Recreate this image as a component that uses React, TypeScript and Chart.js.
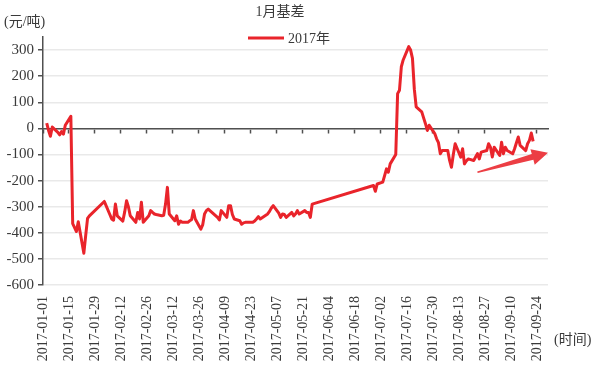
import React, { useEffect, useRef } from 'react';
import { Chart, registerables } from 'chart.js';

Chart.register(...registerables);

// ---------- data ----------
const chartTitle = '1月基差';
const seriesName = '2017年';
const yUnit = '(元/吨)';
const xUnit = '(时间)';

const tradeDates: string[] = [
  '2017-01-03', '2017-01-04', '2017-01-05', '2017-01-06', '2017-01-09', '2017-01-10', '2017-01-11', '2017-01-12', '2017-01-13',
  '2017-01-16', '2017-01-17', '2017-01-18', '2017-01-19', '2017-01-20', '2017-01-23', '2017-01-24', '2017-01-25', '2017-01-26',
  '2017-02-03', '2017-02-06', '2017-02-07', '2017-02-08', '2017-02-09', '2017-02-10', '2017-02-13', '2017-02-14', '2017-02-15',
  '2017-02-16', '2017-02-17', '2017-02-20', '2017-02-21', '2017-02-22', '2017-02-23', '2017-02-24', '2017-02-27', '2017-02-28',
  '2017-03-01', '2017-03-02', '2017-03-03', '2017-03-06', '2017-03-07', '2017-03-08', '2017-03-09', '2017-03-10', '2017-03-13',
  '2017-03-14', '2017-03-15', '2017-03-16', '2017-03-17', '2017-03-20', '2017-03-21', '2017-03-22', '2017-03-23', '2017-03-24',
  '2017-03-27', '2017-03-28', '2017-03-29', '2017-03-30', '2017-03-31',
  '2017-04-05', '2017-04-06', '2017-04-07', '2017-04-10', '2017-04-11', '2017-04-12', '2017-04-13', '2017-04-14', '2017-04-17',
  '2017-04-18', '2017-04-19', '2017-04-20', '2017-04-21', '2017-04-24', '2017-04-25', '2017-04-26', '2017-04-27', '2017-04-28',
  '2017-05-02', '2017-05-03', '2017-05-04', '2017-05-05', '2017-05-08', '2017-05-09', '2017-05-10', '2017-05-11', '2017-05-12',
  '2017-05-15', '2017-05-16', '2017-05-17', '2017-05-18', '2017-05-19', '2017-05-22', '2017-05-23', '2017-05-24', '2017-05-25',
  '2017-05-26',
  '2017-06-28', '2017-06-29', '2017-06-30',
  '2017-07-03', '2017-07-04', '2017-07-05', '2017-07-06', '2017-07-07', '2017-07-10', '2017-07-11', '2017-07-12', '2017-07-13',
  '2017-07-14', '2017-07-17', '2017-07-18', '2017-07-19', '2017-07-20', '2017-07-21', '2017-07-24', '2017-07-25', '2017-07-26',
  '2017-07-27', '2017-07-28', '2017-07-31',
  '2017-08-01', '2017-08-02', '2017-08-03', '2017-08-04', '2017-08-07', '2017-08-08', '2017-08-09', '2017-08-10', '2017-08-11',
  '2017-08-14', '2017-08-15', '2017-08-16', '2017-08-17', '2017-08-18', '2017-08-21', '2017-08-22', '2017-08-23', '2017-08-24',
  '2017-08-25', '2017-08-28', '2017-08-29', '2017-08-30', '2017-08-31',
  '2017-09-01', '2017-09-04', '2017-09-05', '2017-09-06', '2017-09-07', '2017-09-08', '2017-09-11', '2017-09-12', '2017-09-13',
  '2017-09-14', '2017-09-15', '2017-09-18', '2017-09-19', '2017-09-20', '2017-09-21', '2017-09-22',
];

const basis2017: number[] = [
  20, -8, -30, 5, -15, -25, -12, -22, 12,
  46, -365, -380, -395, -358, -478, -410, -345, -335,
  -280, -330, -347, -352, -290, -335, -355, -320, -277,
  -300, -335, -360, -322, -347, -283, -360, -335, -315,
  -322, -328, -330, -335, -333, -290, -226, -328, -354,
  -335, -367, -355, -360, -360, -354, -350, -315, -347,
  -386, -370, -328, -315, -309,
  -341, -351, -315, -341, -296, -296, -330, -347, -354,
  -367, -362, -360, -360, -360, -355, -347, -338, -347,
  -328, -318, -305, -296, -325, -341, -328, -330, -341,
  -322, -335, -328, -315, -328, -315, -322, -322, -341,
  -290,
  -219, -241, -213,
  -206, -181, -155, -168, -136, -100, 133, 146, 236,
  262, 313, 300, 268, 150, 82, 63, 40, 18,
  -8, 12, -20,
  -40, -55, -97, -85, -85, -123, -149, -100, -59,
  -110, -78, -136, -125, -117, -123, -110, -97, -117,
  -91, -85, -59, -72, -110,
  -72, -104, -53, -97, -72, -85, -97, -78, -55,
  -33, -65, -85, -59, -46, -18, -50,
];

const xAxisStart = '2017-01-01';
const xAxisEnd = '2017-09-30';
const xTickStepDays = 14;
const yMin = -600;
const yMax = 350;
const yStep = 100;

// trend arrow annotation: [date, value]
const arrowTail: [string, number] = ['2017-08-23', -168];
const arrowHead: [string, number] = ['2017-09-30', -93];

// ---------- helpers ----------
const DAY = 86400000;
const startMs = Date.parse(xAxisStart + 'T00:00:00Z');
const toDay = (d: string) => Math.round((Date.parse(d + 'T00:00:00Z') - startMs) / DAY);
const fromDay = (n: number) => new Date(startMs + n * DAY).toISOString().slice(0, 10);

const FONT = "'Liberation Serif', 'Times New Roman', 'Noto Sans CJK SC', serif";
const RED = '#e9242b';
const AXIS = '#505050';
const GRID = '#e9e9e9';
const TEXT = '#3a3a3a';

const xMaxDay = toDay(xAxisEnd);

const overlayPlugin = {
  id: 'overlay',
  afterDatasetsDraw(chart: any) {
    const { ctx, scales } = chart;
    const xs = scales.x;
    const ys = scales.y;
    const x1 = xs.getPixelForValue(toDay(arrowTail[0]));
    const y1 = ys.getPixelForValue(arrowTail[1]);
    const x2 = xs.getPixelForValue(toDay(arrowHead[0]));
    const y2 = ys.getPixelForValue(arrowHead[1]);
    const dx = x2 - x1;
    const dy = y2 - y1;
    const len = Math.hypot(dx, dy);
    const ux = dx / len;
    const uy = dy / len;
    const nx = -uy;
    const ny = ux;
    const headLen = 16;
    const headHalf = 8;
    const bx = x2 - ux * headLen;
    const by = y2 - uy * headLen;
    const tailHalf = 0.8;
    const neckHalf = 3;
    ctx.save();
    ctx.fillStyle = '#ec3e44';
    ctx.beginPath();
    ctx.moveTo(x1 + nx * tailHalf, y1 + ny * tailHalf);
    ctx.lineTo(bx + nx * neckHalf, by + ny * neckHalf);
    ctx.lineTo(bx + nx * headHalf, by + ny * headHalf);
    ctx.lineTo(x2, y2);
    ctx.lineTo(bx - nx * headHalf, by - ny * headHalf);
    ctx.lineTo(bx - nx * neckHalf, by - ny * neckHalf);
    ctx.lineTo(x1 - nx * tailHalf, y1 - ny * tailHalf);
    ctx.closePath();
    ctx.fill();
    ctx.restore();
  },
  afterDraw(chart: any) {
    const { ctx, chartArea } = chart;
    ctx.save();
    ctx.font = `14px ${FONT}`;
    ctx.fillStyle = TEXT;
    ctx.textBaseline = 'middle';
    // title
    ctx.textAlign = 'center';
    ctx.fillText(chartTitle, 280, 12);
    // unit labels
    ctx.textAlign = 'left';
    ctx.fillText(yUnit, 4, 22);
    ctx.fillText(xUnit, chartArea.right + 6, 340);
    // legend
    const ly = 38;
    ctx.strokeStyle = RED;
    ctx.lineWidth = 3;
    ctx.beginPath();
    ctx.moveTo(248, ly);
    ctx.lineTo(284, ly);
    ctx.stroke();
    ctx.fillText(seriesName, 288, ly + 1);
    ctx.restore();
  },
};

export default function App() {
  const ref = useRef<HTMLCanvasElement | null>(null);

  useEffect(() => {
    if (!ref.current) return;
    const points = tradeDates.map((d, i) => ({ x: toDay(d), y: basis2017[i] }));
    const chart = new Chart(ref.current, {
      type: 'line',
      data: {
        datasets: [
          {
            label: seriesName,
            data: points,
            borderColor: RED,
            backgroundColor: RED,
            borderWidth: 3,
            pointRadius: 0,
            tension: 0,
            borderJoinStyle: 'round',
          },
        ],
      },
      options: {
        responsive: false,
        animation: false,
        events: [],
        layout: { padding: { left: 0, right: 52, top: 37, bottom: 0 } },
        plugins: {
          legend: { display: false },
          tooltip: { enabled: false },
          title: { display: false },
        },
        scales: {
          x: {
            type: 'linear',
            position: 'bottom',
            min: 0,
            max: xMaxDay,
            afterFit: (s: any) => {
              s.height = 85;
            },
            grid: { display: false, drawTicks: false },
            border: { display: false },
            ticks: {
              stepSize: xTickStepDays,
              includeBounds: false,
              autoSkip: false,
              minRotation: 90,
              maxRotation: 90,
              padding: 11,
              color: TEXT,
              font: { family: FONT, size: 14 },
              callback: (v: any) => fromDay(Number(v)),
            },
          },
          x2: {
            type: 'linear',
            axis: 'x',
            position: { y: 0 },
            min: 0,
            max: xMaxDay,
            grid: {
              display: true,
              drawOnChartArea: false,
              drawTicks: true,
              tickLength: 4,
              tickColor: AXIS,
              tickWidth: 1.5,
              z: -1,
            },
            border: { display: true, color: AXIS, width: 1.5 },
            ticks: { display: false, stepSize: xTickStepDays, includeBounds: false, autoSkip: false },
          },
          y: {
            type: 'linear',
            min: yMin,
            max: yMax,
            afterFit: (s: any) => {
              s.width = 43;
            },
            grid: {
              color: GRID,
              lineWidth: 1.5,
              tickLength: 5,
              tickColor: AXIS,
              tickWidth: 1.5,
            },
            border: { display: true, color: AXIS, width: 1.5 },
            ticks: {
              stepSize: yStep,
              includeBounds: false,
              padding: 4,
              color: TEXT,
              font: { family: FONT, size: 15 },
            },
          },
        },
      },
      plugins: [overlayPlugin],
    } as any);
    return () => chart.destroy();
  }, []);

  return (
    <div style={{ position: 'absolute', left: 0, top: 0, width: 600, height: 370 }}>
      <canvas ref={ref} width={600} height={370} />
    </div>
  );
}
